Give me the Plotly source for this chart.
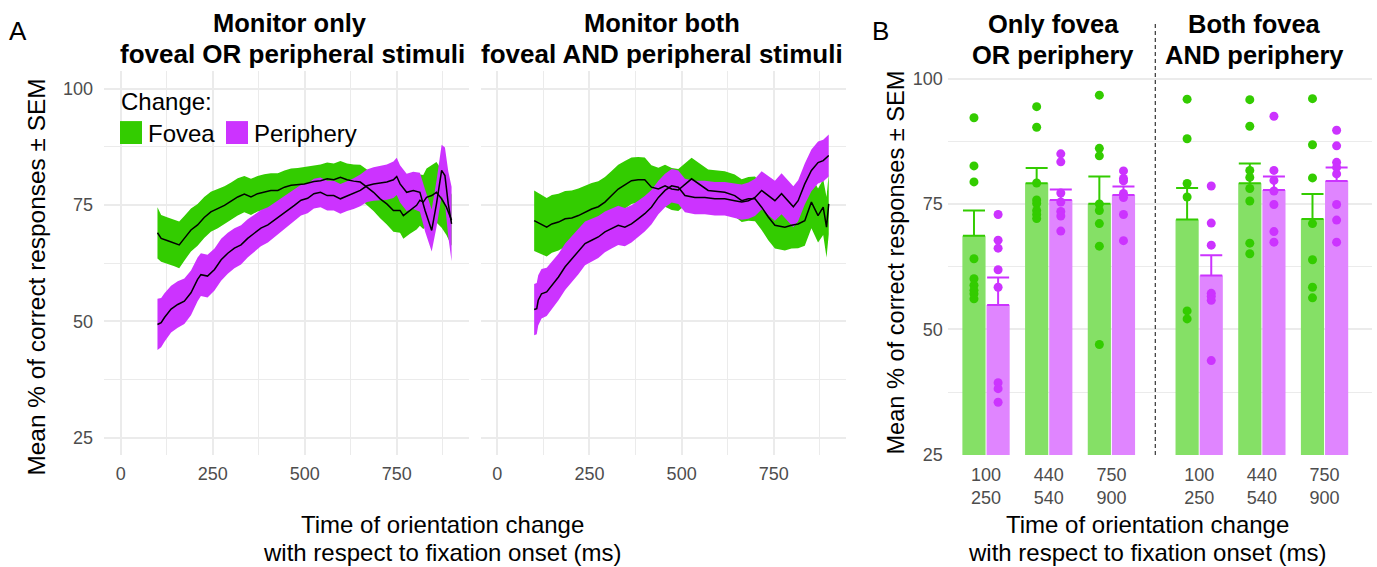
import plotly.graph_objects as go

W, H = 1377, 567
GREEN = "#33CC00"
PURPLE = "#CC33FF"
GREEN_BAR = "#85E066"
PURPLE_BAR = "#E085FF"
GRID = "#EBEBEB"
TICK = "#4D4D4D"
FONT = "Liberation Sans, Arial, Helvetica, sans-serif"

# ---------------- Panel A data (time course) ----------------
# Monitor only: fovea change
t_only_fov = [100, 110, 128, 146, 159, 173, 191, 209, 227, 245, 264, 282, 300, 318, 336, 354, 372, 390, 408, 427,
              445, 463, 481, 499, 525, 543, 561, 579, 597, 615, 633, 651, 669, 687, 705, 723, 741, 759, 768, 786,
              804, 813, 822, 831, 845, 858, 872, 885, 899]
m_only_fov = [69.0, 67.8, 67.3, 66.8, 66.4, 67.8, 69.6, 70.7, 72.3, 73.5, 74.2, 74.9, 75.8, 76.7, 77.3, 76.7, 77.4, 77.8, 78.1, 78.1,
              78.8, 79.2, 79.3, 79.5, 80.0, 80.2, 80.6, 80.4, 80.9, 80.4, 80.1, 79.9, 78.8, 77.7, 76.3, 75.2, 73.8, 73.8, 72.7, 73.8,
              74.9, 76.0, 75.6, 76.6, 77.0, 77.7, 76.3, 74.5, 71.7]
s_only_fov = [5.5, 5.0, 5.0, 5.0, 5.0, 4.8, 4.6, 4.5, 4.4, 4.3, 4.2, 4.1, 4.0, 4.0, 3.9, 3.9, 3.8, 3.8, 3.7, 3.7,
              3.6, 3.6, 3.6, 3.6, 3.5, 3.5, 3.5, 3.5, 3.5, 3.5, 3.6, 3.7, 3.8, 4.0, 4.2, 4.4, 4.6, 4.8, 5.0, 5.0,
              5.2, 5.5, 5.8, 6.2, 6.5, 6.5, 6.2, 6.0, 5.5]

# Monitor only: periphery change
t_only_per = [100, 110, 119, 137, 155, 173, 191, 209, 218, 236, 255, 273, 291, 309, 327, 345, 363, 381, 400, 418,
              436, 454, 472, 490, 508, 525, 543, 561, 579, 597, 615, 633, 651, 669, 687, 705, 723, 741, 750, 759,
              777, 795, 813, 827, 845, 858, 872, 881, 890, 899]
m_only_per = [49.3, 49.7, 50.8, 52.6, 53.6, 54.3, 56.1, 59.0, 60.0, 59.7, 61.1, 63.2, 64.6, 65.7, 66.4, 67.8, 68.9, 70.0, 70.7, 71.7,
              72.8, 73.9, 74.9, 76.0, 76.4, 77.4, 77.7, 77.0, 77.0, 76.3, 76.9, 77.4, 78.1, 79.1, 79.5, 79.7, 79.9, 80.4, 81.1, 79.5,
              77.7, 78.1, 77.7, 73.8, 69.5, 75.2, 82.4, 81.3, 75.2, 70.9]
s_only_per = [5.5, 5.3, 5.2, 5.0, 5.0, 4.9, 4.8, 4.7, 4.6, 4.6, 4.5, 4.5, 4.4, 4.3, 4.2, 4.1, 4.0, 3.9, 3.8, 3.7,
              3.6, 3.5, 3.4, 3.3, 3.2, 3.2, 3.2, 3.2, 3.2, 3.2, 3.2, 3.3, 3.4, 3.5, 3.6, 3.7, 3.8, 3.9, 4.0, 4.0,
              4.0, 4.0, 4.2, 4.5, 4.5, 5.0, 5.5, 6.0, 7.0, 8.0]

# Monitor both: fovea change
t_both_fov = [100, 107, 116, 134, 148, 166, 184, 202, 220, 238, 256, 274, 292, 310, 328, 346, 364, 382, 400, 418,
              437, 455, 473, 491, 527, 572, 617, 644, 663, 681, 699, 717, 735, 753, 780, 798, 816, 834, 852, 870,
              884, 893, 899]
m_both_fov = [71.6, 71.3, 70.9, 70.2, 70.9, 71.3, 72.0, 72.2, 72.7, 73.4, 74.1, 74.6, 75.6, 77.0, 78.4, 79.3, 80.2, 80.4, 80.4, 78.8,
              78.4, 79.1, 78.4, 78.2, 80.6, 78.1, 77.7, 77.0, 75.9, 76.3, 76.3, 74.5, 72.4, 70.6, 70.2, 70.6, 70.9, 71.6, 75.6, 72.7,
              74.5, 70.2, 75.2]
s_both_fov = [6.5, 6.5, 6.4, 6.3, 6.2, 6.1, 6.0, 5.9, 5.8, 5.7, 5.6, 5.5, 5.4, 5.3, 5.2, 5.1, 5.0, 4.9, 4.8, 4.7,
              4.6, 4.5, 4.5, 4.5, 4.5, 4.5, 4.5, 4.5, 4.6, 4.7, 4.8, 4.9, 5.0, 5.0, 5.0, 5.0, 5.2, 5.4, 5.6, 5.8,
              6.0, 6.5, 6.5]

# Monitor both: periphery change
t_both_per = [100, 107, 111, 120, 134, 148, 166, 184, 202, 220, 238, 256, 274, 292, 310, 328, 346, 364, 382, 400,
              418, 437, 455, 473, 491, 509, 536, 563, 590, 617, 644, 663, 681, 699, 717, 735, 753, 771, 789, 803,
              816, 834, 852, 870, 884, 899]
m_both_per = [52.5, 52.7, 54.5, 55.9, 56.3, 57.7, 59.5, 61.7, 63.4, 64.9, 66.7, 67.4, 68.1, 69.2, 69.9, 70.6, 70.2, 70.9, 72.0, 73.1,
              74.5, 76.6, 78.1, 79.1, 78.8, 77.0, 76.6, 76.6, 76.3, 76.3, 75.9, 75.6, 75.9, 76.6, 78.1, 77.0, 75.9, 77.4, 75.9, 74.6,
              75.9, 79.5, 82.4, 84.1, 84.5, 85.6]
s_both_per = [5.5, 5.5, 5.4, 5.3, 5.2, 5.1, 5.0, 5.0, 4.9, 4.8, 4.7, 4.6, 4.5, 4.4, 4.3, 4.2, 4.1, 4.0, 3.9, 3.8,
              3.7, 3.6, 3.6, 3.6, 3.6, 3.6, 3.6, 3.6, 3.6, 3.6, 3.7, 3.8, 3.9, 4.0, 4.1, 4.2, 4.3, 4.4, 4.4, 4.4,
              4.4, 4.4, 4.5, 4.5, 4.5, 4.5]

time_ticks = [0, 250, 500, 750]
time_minor = [125, 375, 625, 875]
pct_ticks = [25, 50, 75, 100]
pct_minor = [37.5, 62.5, 87.5]

# ---------------- Panel B data (bins) ----------------
bin_labels = ["100<br>250", "440<br>540", "750<br>900"]
cond_titles = [["Only fovea", "OR periphery"], ["Both fovea", "AND periphery"]]
fovea_mean = [68.7, 79.15, 75.05, 71.9, 79.15, 72.0]
fovea_sem = [5.0, 3.05, 5.45, 6.3, 3.95, 5.0]
periph_mean = [54.9, 75.8, 76.8, 60.75, 77.8, 79.6]
periph_sem = [5.45, 2.1, 1.7, 4.05, 2.7, 2.7]
fovea_pts = [
    [92.2, 82.6, 79.4, 64.1, 60.1, 58.8, 57.8, 57.1, 56.1],
    [94.4, 90.3, 79.2, 75.8, 75.1, 73.7, 72.9, 72.1],
    [96.7, 86.1, 84.6, 75.0, 73.7, 71.1, 66.6, 47.0],
    [95.9, 88.0, 79.1, 76.4, 53.7, 52.1],
    [95.8, 90.5, 81.7, 80.3, 78.1, 75.6, 67.2, 65.1],
    [96.0, 86.8, 80.2, 71.1, 63.9, 58.4, 56.3],
]
periph_pts = [
    [72.9, 67.8, 66.2, 61.9, 58.4, 39.4, 38.2, 35.5],
    [85.0, 83.4, 77.2, 75.4, 73.5, 72.6, 69.6],
    [81.6, 80.1, 79.6, 77.1, 76.3, 72.9, 67.7],
    [78.6, 71.2, 66.8, 57.2, 56.6, 55.8, 43.8],
    [92.5, 81.7, 79.7, 77.6, 74.9, 69.5, 67.4],
    [89.7, 86.6, 83.3, 82.3, 81.0, 74.9, 71.8, 67.4],
]

# vertical layout calibration (target pixel row -> paper fraction)
V_SCALE = 0.977
V_OFF = 3.5


def px(X):
    return X / W


def py(Y):
    return 1 - ((Y - V_OFF) / V_SCALE) / H


fig = go.Figure()


def ribbon(t, m, s, color, xa, ya):
    up = [a + b for a, b in zip(m, s)]
    lo = [a - b for a, b in zip(m, s)]
    fig.add_trace(go.Scatter(x=list(t) + list(t)[::-1], y=up + lo[::-1], fill="toself",
                             fillcolor=color, line=dict(width=0), mode="lines",
                             hoverinfo="skip", showlegend=False, xaxis=xa, yaxis=ya))


def meanline(t, m, xa, ya):
    fig.add_trace(go.Scatter(x=t, y=m, mode="lines", line=dict(color="black", width=1.5),
                             showlegend=False, xaxis=xa, yaxis=ya))


for (tf, mf, sf, tp, mp, sp, xa, ya) in [
    (t_only_fov, m_only_fov, s_only_fov, t_only_per, m_only_per, s_only_per, "x", "y"),
    (t_both_fov, m_both_fov, s_both_fov, t_both_per, m_both_per, s_both_per, "x2", "y2"),
]:
    ribbon(tf, mf, sf, GREEN, xa, ya)
    ribbon(tp, mp, sp, PURPLE, xa, ya)
    meanline(tf, mf, xa, ya)
    meanline(tp, mp, xa, ya)

# Panel B bars
gap = 0.4
ncat = len(bin_labels)
pos = [c * (ncat + gap) + i + 1 for c in range(len(cond_titles)) for i in range(ncat)]
tick_text = bin_labels * len(cond_titles)
bargap = 0.23
dodge = (1 - bargap) / 4

fig.add_trace(go.Bar(x=pos, y=fovea_mean, marker=dict(color=GREEN_BAR, line=dict(width=0)),
                     error_y=dict(type="data", symmetric=False, array=fovea_sem,
                                  arrayminus=[0] * len(fovea_sem), color=GREEN, thickness=2, width=11),
                     showlegend=False, xaxis="x3", yaxis="y3", offsetgroup="f"))
fig.add_trace(go.Bar(x=pos, y=periph_mean, marker=dict(color=PURPLE_BAR, line=dict(width=0)),
                     error_y=dict(type="data", symmetric=False, array=periph_sem,
                                  arrayminus=[0] * len(periph_sem), color=PURPLE, thickness=2, width=11),
                     showlegend=False, xaxis="x3", yaxis="y3", offsetgroup="p"))

fx, fy, pxs, pys = [], [], [], []
for i, p in enumerate(pos):
    fx += [p - dodge] * len(fovea_pts[i])
    fy += fovea_pts[i]
    pxs += [p + dodge] * len(periph_pts[i])
    pys += periph_pts[i]
fig.add_trace(go.Scatter(x=fx, y=fy, mode="markers", marker=dict(color=GREEN, size=9),
                         showlegend=False, xaxis="x3", yaxis="y3"))
fig.add_trace(go.Scatter(x=pxs, y=pys, mode="markers", marker=dict(color=PURPLE, size=9),
                         showlegend=False, xaxis="x3", yaxis="y3"))

tickfont = dict(family=FONT, size=18, color=TICK)


def time_axis(dom):
    return dict(domain=dom, range=[-45, 945], tickvals=time_ticks, ticktext=[str(v) for v in time_ticks],
                showgrid=True, gridcolor=GRID, gridwidth=1.6, zeroline=False, showline=False,
                ticks="", tickfont=tickfont, ticklabelstandoff=6,
                minor=dict(tickvals=time_minor, showgrid=True, gridcolor=GRID, gridwidth=1.0))


def pct_axis(dom, rng, labels=True, standoff=10):
    return dict(domain=dom, range=rng, tickvals=pct_ticks, showticklabels=labels,
                showgrid=True, gridcolor=GRID, gridwidth=1.6, zeroline=False, showline=False,
                ticks="", tickfont=tickfont, ticklabelstandoff=standoff,
                minor=dict(tickvals=pct_minor, showgrid=True, gridcolor=GRID, gridwidth=1.0))


fig.update_layout(
    width=W, height=H, margin=dict(l=0, r=0, t=0, b=0),
    paper_bgcolor="white", plot_bgcolor="white",
    font=dict(family=FONT, color="black"),
    barmode="group", bargap=bargap, bargroupgap=0.04,
    xaxis=time_axis([px(104.1), px(468.5)]),
    xaxis2=time_axis([px(480.7), px(845.7)]),
    yaxis=pct_axis([py(455.1), py(69.8)], [21.25, 103.75]),
    yaxis2=pct_axis([py(455.1), py(69.8)], [21.25, 103.75], labels=False),
    xaxis3=dict(domain=[px(947.8), px(1372.2)], range=[0.39, 7.16], tickvals=pos, ticktext=tick_text,
                showgrid=False, zeroline=False, showline=False, ticks="", tickfont=tickfont,
                ticklabelstandoff=7),
    yaxis3=pct_axis([py(455), py(72.3)], [25, 101], standoff=4),
)
fig.layout.yaxis2.anchor = "x2"
fig.layout.xaxis2.anchor = "y2"
fig.layout.xaxis3.anchor = "y3"
fig.layout.yaxis3.anchor = "x3"

# dashed separator between conditions in panel B
sep = (pos[ncat - 1] + pos[ncat]) / 2
fig.add_shape(type="line", xref="x3", yref="paper", x0=sep, x1=sep, y0=py(455), y1=py(20),
              line=dict(color="#333333", width=1.2, dash="4px,3px"))

# legend (manual)
fig.add_shape(type="rect", xref="paper", yref="paper", x0=px(120), x1=px(142), y0=py(143), y1=py(120),
              fillcolor=GREEN, line=dict(width=0))
fig.add_shape(type="rect", xref="paper", yref="paper", x0=px(226), x1=px(248), y0=py(143), y1=py(120),
              fillcolor=PURPLE, line=dict(width=0))

ann = []


def note(text, X, Y, size, xanchor="center", angle=0, bold=False):
    if bold:
        text = "<b>" + text + "</b>"
    ann.append(dict(text=text, x=px(X), y=py(Y), xref="paper", yref="paper", showarrow=False,
                    xanchor=xanchor, yanchor="middle", textangle=angle,
                    font=dict(family=FONT, size=size, color="black")))


note("A", 18, 30, 26)
note("B", 880, 30, 26)
note("Monitor only", 290, 22, 25.5, bold=True)
note("foveal OR peripheral stimuli", 292, 53, 26, bold=True)
note("Monitor both", 662, 22, 25.5, bold=True)
note("foveal AND peripheral stimuli", 662, 53, 26, bold=True)
for k, cx in enumerate([1053, 1254]):
    note(cond_titles[k][0], cx, 23, 25.5, bold=True)
    note(cond_titles[k][1], cx, 54, 25.5, bold=True)
note("Mean % of correct responses ± SEM", 37, 277, 24.4, angle=-90)
note("Mean % of correct responses ± SEM", 896, 262, 23.6, angle=-90)
for cx in [442, 1147]:
    note("Time of orientation change", cx, 525, 24)
    note("with respect to fixation onset (ms)", cx, 553, 24)
note("Change:", 119, 100, 24, xanchor="left")
note("Fovea", 146, 132, 24, xanchor="left")
note("Periphery", 252, 132, 24, xanchor="left")
fig.update_layout(annotations=ann)

fig.write_html(
    "out.html",
    config={"displayModeBar": False, "responsive": False},
    post_script=("document.documentElement.style.margin='0px';document.body.style.margin='0px';"
                 "document.body.style.padding='0px';document.documentElement.style.overflow='hidden';"
                 "document.body.style.overflow='hidden';document.body.style.height='567px';"),
)
